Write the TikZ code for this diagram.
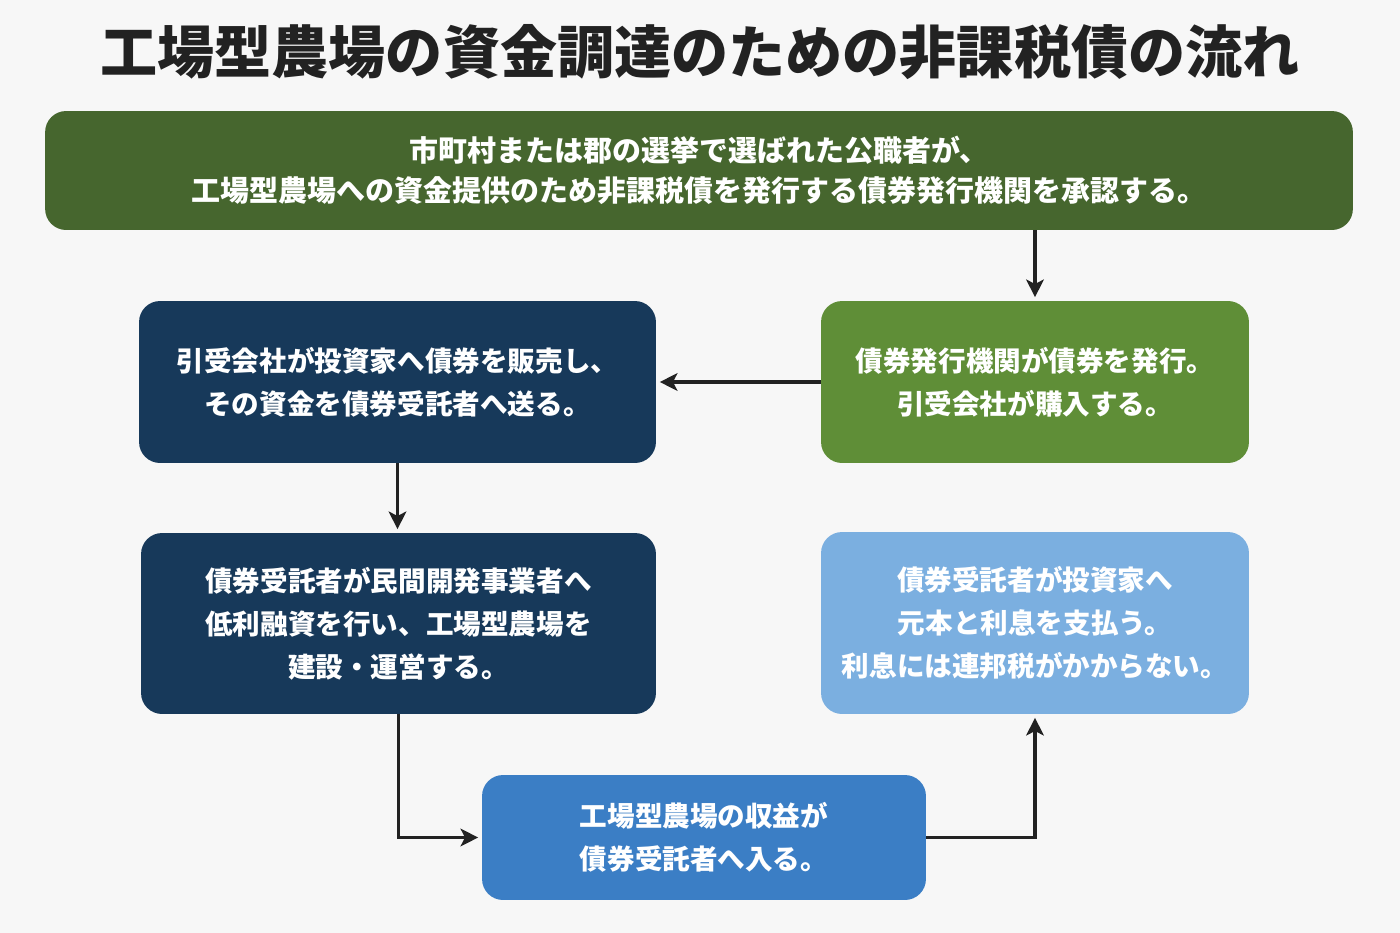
\documentclass[tikz,border=0pt]{standalone}
\usepackage{fontspec}
\setmainfont{Noto Sans CJK JP}
\usetikzlibrary{arrows.meta}
\definecolor{bgray}{HTML}{F7F7F7}
\definecolor{titleink}{HTML}{222222}
\definecolor{darkgreen}{HTML}{46662E}
\definecolor{leafgreen}{HTML}{5F8E37}
\definecolor{navy}{HTML}{17395A}
\definecolor{skyblue}{HTML}{7BAFE0}
\definecolor{midblue}{HTML}{3B7EC5}
\definecolor{arrowink}{HTML}{222222}
\begin{document}
\begin{tikzpicture}[x=0.02cm, y=-0.02cm,
        box/.style={rounded corners=0.42cm, inner sep=0pt, text=white, align=center,
            font=\bfseries\fontsize{15.7}{24.5}\selectfont},
        arr/.style={draw=arrowink, line width=2.2pt, -{Stealth[length=10pt,width=10pt,inset=2.5pt]}, shorten >=2pt}]
    \useasboundingbox[fill=bgray] (0,0) rectangle (1400,933);

    % title
    \node (title) at (700,52) [text=titleink, font=\bfseries\fontsize{32.5}{36}\selectfont]
        {工場型農場の資金調達のための非課税債の流れ};

    % boxes
    \node (approve) at (699,170.5) [box, fill=darkgreen, minimum width=26.16cm, minimum height=2.38cm,
        font=\bfseries\fontsize{16.5}{23}\selectfont]
        {市町村または郡の選挙で選ばれた公職者が、\\工場型農場への資金提供のため非課税債を発行する債券発行機関を承認する。};
    \node (issuer) at (1035,382) [box, fill=leafgreen, minimum width=8.56cm, minimum height=3.24cm]
        {債券発行機関が債券を発行。\\引受会社が購入する。};
    \node (underwriter) at (397.5,382) [box, fill=navy, minimum width=10.34cm, minimum height=3.24cm]
        {引受会社が投資家へ債券を販売し、\\その資金を債券受託者へ送る。};
    \node (trustee) at (398.5,623.5) [box, fill=navy, minimum width=10.3cm, minimum height=3.62cm]
        {債券受託者が民間開発事業者へ\\低利融資を行い、工場型農場を\\建設・運営する。};
    \node (payment) at (1035,623) [box, fill=skyblue, minimum width=8.56cm, minimum height=3.64cm]
        {債券受託者が投資家へ\\元本と利息を支払う。\\利息には連邦税がかからない。};
    \node (revenue) at (704,837.5) [box, fill=midblue, minimum width=8.88cm, minimum height=2.5cm, align=left]
        {工場型農場の収益が\\債券受託者へ入る。};

    % flow
    \draw[arr] (approve.south -| issuer.north) -- (issuer.north);
    \draw[arr] (issuer.west) -- (underwriter.east);
    \draw[arr] (underwriter.south) -- (underwriter.south |- trustee.north);
    \draw[arr] (trustee.south) |- (revenue.west);
    \draw[arr] (revenue.east) -| (payment.south);
\end{tikzpicture}
\end{document}
